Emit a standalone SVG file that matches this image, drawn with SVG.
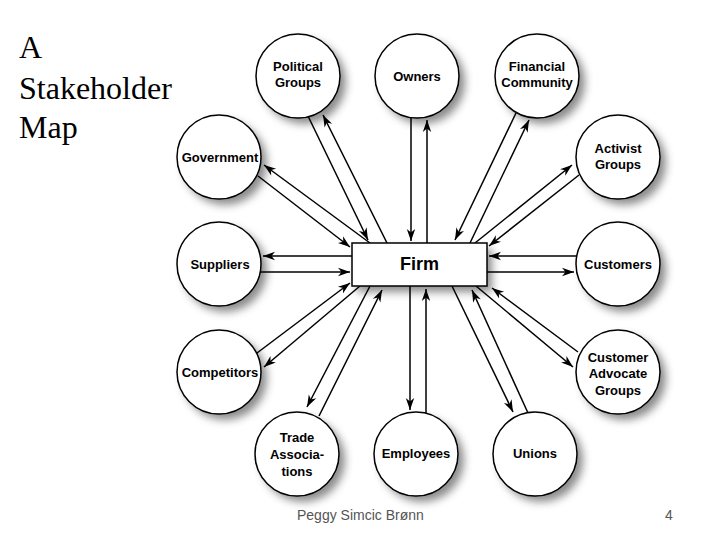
<svg xmlns="http://www.w3.org/2000/svg" width="720" height="540" viewBox="0 0 720 540">
<style>
.title{font-family:"Liberation Serif","Times New Roman",serif;font-size:32px;fill:#000}
.lbl{font-family:"Liberation Sans",Arial,sans-serif;font-size:13px;font-weight:bold;fill:#000;text-anchor:middle}
.firm{font-family:"Liberation Sans",Arial,sans-serif;font-size:18px;font-weight:bold;fill:#000;text-anchor:middle}
.foot{font-family:"Liberation Sans",Arial,sans-serif;font-size:14px;fill:#555}
.node{fill:#fff;stroke:#000;stroke-width:1.5}
.shadow{fill:#6e6e6e;opacity:0.8;filter:url(#blur)}
.conn line{stroke:#000;stroke-width:1.5;marker-end:url(#arr)}
</style>
<defs>
<filter id="blur" x="-50%" y="-50%" width="200%" height="200%"><feGaussianBlur stdDeviation="4.5"/></filter>
<marker id="arr" markerUnits="userSpaceOnUse" viewBox="-13 -5 14 10" markerWidth="14" markerHeight="10" refX="0" refY="0" orient="auto">
<path d="M0,0 L-12,-4.2 L-8.5,0 L-12,4.2 Z" fill="#000"/>
</marker>
</defs>
<rect width="720" height="540" fill="#fff"/>
<g id="title">
<text class="title" x="19" y="58">A</text>
<text class="title" x="19" y="99">Stakeholder</text>
<text class="title" x="19" y="138">Map</text>
</g>
<g id="shadows">
<circle class="shadow" cx="304" cy="82" r="42"/>
<circle class="shadow" cx="423" cy="82" r="42"/>
<circle class="shadow" cx="543" cy="82" r="42"/>
<circle class="shadow" cx="225" cy="163" r="42"/>
<circle class="shadow" cx="624" cy="163" r="42"/>
<circle class="shadow" cx="225" cy="270" r="42"/>
<circle class="shadow" cx="624" cy="270" r="42"/>
<circle class="shadow" cx="225" cy="378" r="42"/>
<circle class="shadow" cx="624" cy="378" r="42"/>
<circle class="shadow" cx="303" cy="460" r="42"/>
<circle class="shadow" cx="422" cy="460" r="42"/>
<circle class="shadow" cx="541" cy="460" r="42"/>
<rect class="shadow" x="357" y="249" width="135" height="43"/>
</g>
<g id="connectors" class="conn">
<line x1="308" y1="116" x2="368" y2="240"/>
<line x1="387" y1="243" x2="323" y2="115"/>
<line x1="411" y1="117" x2="411" y2="241"/>
<line x1="427" y1="243" x2="427" y2="120"/>
<line x1="516" y1="113" x2="455" y2="240"/>
<line x1="470" y1="243" x2="529" y2="120"/>
<line x1="579" y1="175" x2="489" y2="246"/>
<line x1="475" y1="243" x2="572" y2="165"/>
<line x1="578" y1="256" x2="489" y2="256"/>
<line x1="487" y1="272" x2="574" y2="272"/>
<line x1="352" y1="256" x2="263" y2="256"/>
<line x1="260" y1="272" x2="350" y2="272"/>
<line x1="258" y1="176" x2="350" y2="247"/>
<line x1="370" y1="243" x2="264" y2="165"/>
<line x1="257" y1="353" x2="350" y2="283"/>
<line x1="360" y1="286" x2="264" y2="367"/>
<line x1="370" y1="286" x2="307" y2="407"/>
<line x1="319" y1="416" x2="382" y2="290"/>
<line x1="410" y1="286" x2="410" y2="410"/>
<line x1="426" y1="413" x2="426" y2="289"/>
<line x1="452" y1="286" x2="513" y2="412"/>
<line x1="528" y1="413" x2="472" y2="290"/>
<line x1="578" y1="352" x2="492" y2="288"/>
<line x1="476" y1="286" x2="573" y2="367"/>
</g>
<g id="firm">
<rect class="node" x="352" y="243" width="135" height="43"/>
<text class="firm" x="419.5" y="270">Firm</text>
</g>
<g id="political-groups">
<circle class="node" cx="298" cy="76" r="42"/>
<text class="lbl" x="298" y="71">Political</text>
<text class="lbl" x="298" y="87">Groups</text>
</g>
<g id="owners">
<circle class="node" cx="417" cy="76" r="42"/>
<text class="lbl" x="417" y="81">Owners</text>
</g>
<g id="financial-community">
<circle class="node" cx="537" cy="76" r="42"/>
<text class="lbl" x="537" y="71">Financial</text>
<text class="lbl" x="537" y="87">Community</text>
</g>
<g id="government">
<circle class="node" cx="219" cy="157" r="42"/>
<text class="lbl" x="220" y="162">Government</text>
</g>
<g id="activist-groups">
<circle class="node" cx="618" cy="157" r="42"/>
<text class="lbl" x="618" y="153">Activist</text>
<text class="lbl" x="618" y="169">Groups</text>
</g>
<g id="suppliers">
<circle class="node" cx="219" cy="264" r="42"/>
<text class="lbl" x="220" y="269">Suppliers</text>
</g>
<g id="customers">
<circle class="node" cx="618" cy="264" r="42"/>
<text class="lbl" x="618" y="269">Customers</text>
</g>
<g id="competitors">
<circle class="node" cx="219" cy="372" r="42"/>
<text class="lbl" x="220" y="377">Competitors</text>
</g>
<g id="customer-advocate-groups">
<circle class="node" cx="618" cy="372" r="42"/>
<text class="lbl" x="618" y="362">Customer</text>
<text class="lbl" x="618" y="378">Advocate</text>
<text class="lbl" x="618" y="395">Groups</text>
</g>
<g id="trade-associations">
<circle class="node" cx="297" cy="454" r="42"/>
<text class="lbl" x="297" y="442">Trade</text>
<text class="lbl" x="297" y="459">Associa-</text>
<text class="lbl" x="297" y="476">tions</text>
</g>
<g id="employees">
<circle class="node" cx="416" cy="454" r="42"/>
<text class="lbl" x="416" y="458">Employees</text>
</g>
<g id="unions">
<circle class="node" cx="535" cy="454" r="42"/>
<text class="lbl" x="535" y="458">Unions</text>
</g>
<g id="footer">
<text class="foot" x="297" y="520">Peggy Simcic Brønn</text>
<text class="foot" x="665" y="520">4</text>
</g>
</svg>
